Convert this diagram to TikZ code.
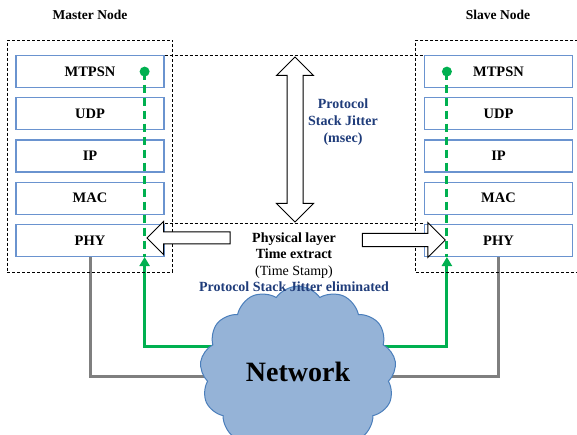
\documentclass[tikz,border=0pt]{standalone}
\usepackage{fontspec}
\setmainfont{Liberation Serif}
\usetikzlibrary{matrix,arrows.meta,shapes.arrows,shapes.symbols,fit,backgrounds}
\definecolor{layerblue}{HTML}{6A93CF}
\definecolor{jitblue}{HTML}{1F3C7A}
\definecolor{linkgreen}{HTML}{00B050}
\definecolor{linkgray}{HTML}{7F7F7F}
\definecolor{cloudfill}{HTML}{95B3D7}
\definecolor{cloudedge}{HTML}{4A7EBB}

\begin{document}
\begin{tikzpicture}[x=1pt,y=-1pt,
  layer/.style={draw=layerblue, line width=1.2pt, minimum width=148pt, minimum height=32pt, inner sep=0pt, font=\fontsize{14.5}{17}\selectfont\bfseries},
  title/.style={font=\fontsize{13.5}{16}\selectfont\bfseries},
  dbox/.style={draw, line width=0.9pt, dash pattern=on 3pt off 2pt},
  blockarrow/.style={draw, fill=white, line width=1pt, inner xsep=0pt},
  greenlink/.style={draw=linkgreen, line width=3pt},
  graylink/.style={draw=linkgray, line width=3pt}]
  \useasboundingbox (0,0) rectangle (577,435);

  \node[title] (mtitle) at (90,15) {Master Node};
  \node[title] (stitle) at (498,15) {Slave Node};

  \matrix (ms) [matrix of nodes, row sep=9pt, nodes={layer}] at (90,156)
  {
MTPSN \\
UDP \\
IP \\
MAC \\
PHY \\
};
  \matrix (ss) [matrix of nodes, row sep=9pt, nodes={layer}] at (498.5,156)
  {
MTPSN \\
UDP \\
IP \\
MAC \\
PHY \\
};

  \node[dbox, fit=(ms-1-1)(ms-5-1), inner xsep=8pt, inner ysep=15pt] (mbox) {};
  \node[dbox, fit=(ss-1-1)(ss-5-1), inner xsep=8pt, inner ysep=15pt] (sbox) {};
  \draw[dbox] (ms-1-1.north east) -- (ss-1-1.north west);
  \draw[dbox] (ms-5-1.north east) -- (ss-5-1.north west);

  % jitter arrows
  \node[blockarrow, double arrow, rotate=90, inner ysep=7.5pt, minimum height=165pt, double arrow head extend=10.5pt] (jit) at (295,139.5) {};
  \node[blockarrow, single arrow, shape border rotate=180, inner ysep=5.5pt, minimum height=83pt, single arrow head extend=10.5pt] (larr) at (191.5,238) {};
  \node[blockarrow, single arrow, inner ysep=6pt, minimum height=83pt, single arrow head extend=11pt] (rarr) at (400.5,240) {};

  \node[cloud, cloud puffs=13, cloud puff arc=110, draw=cloudedge, fill=cloudfill, line width=1pt, minimum width=196pt, minimum height=98pt, font=\fontsize{28}{30}\selectfont\bfseries] (net) at (298,372) {Network};

  \node[align=center, text=jitblue, font=\fontsize{14}{17}\selectfont\bfseries] (jtxt) at (343,122) {Protocol\\Stack Jitter\\(msec)};
  \node[align=center, font=\fontsize{14}{16.5}\selectfont] (ptxt) at (294,262)
    {\textbf{Physical layer}\\\textbf{Time extract}\\(Time Stamp)\\\textcolor{jitblue}{\textbf{Protocol Stack Jitter eliminated}}};

  \coordinate (mdot) at ([xshift=-20pt]ms-1-1.east);
  \coordinate (sdot) at ([xshift=23pt]ss-1-1.west);
  \draw[greenlink, dash pattern=on 8pt off 5pt] (mdot) -- (mdot |- ms-5-1.south);
  \draw[greenlink, dash pattern=on 8pt off 5pt] (sdot) -- (sdot |- ss-5-1.south);
  \fill[linkgreen] (mdot) circle (5pt);
  \fill[linkgreen] (sdot) circle (5pt);

  \begin{scope}[on background layer]
  \draw[graylink] (ms-5-1.south) |- ([yshift=-4pt]net.center) -| (ss-5-1.south);
  \draw[greenlink, -{Triangle[width=10pt,length=9pt]}] ([yshift=26pt]net.center) -| (mdot |- ms-5-1.south);
  \draw[greenlink, -{Triangle[width=10pt,length=9pt]}] ([yshift=26pt]net.center) -| (sdot |- ss-5-1.south);
  \end{scope}
\end{tikzpicture}
\end{document}
